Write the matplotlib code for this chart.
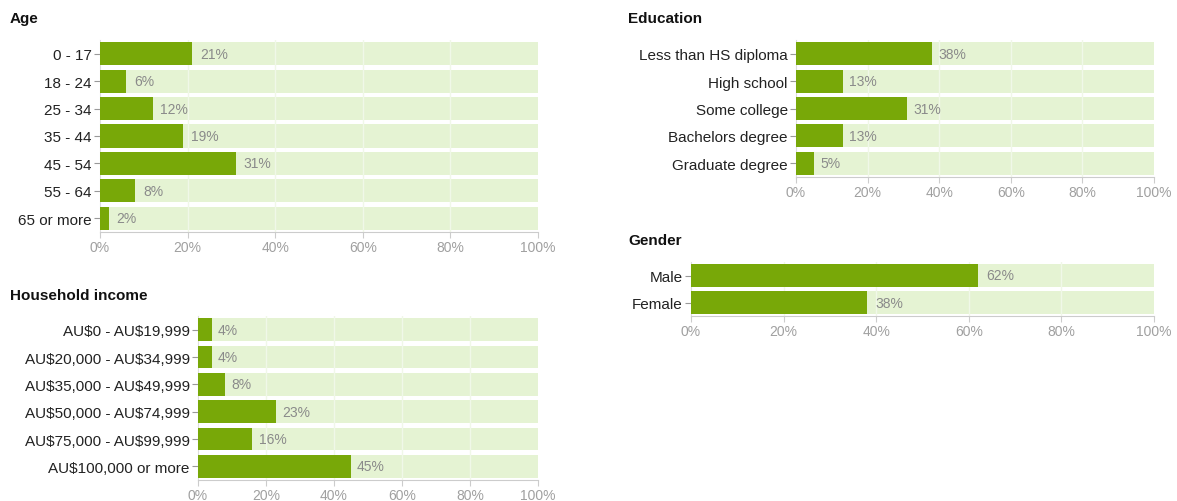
import matplotlib
matplotlib.use("Agg")
import matplotlib.pyplot as plt

plt.rcParams['font.family'] = ['Liberation Sans', 'DejaVu Sans']
plt.rcParams['text.parse_math'] = False

# data
age_labels = ["0 - 17", "18 - 24", "25 - 34", "35 - 44", "45 - 54", "55 - 64", "65 or more"]
age_values = [21, 6, 12, 19, 31, 8, 2]

income_labels = ["AU$0 - AU$19,999", "AU$20,000 - AU$34,999", "AU$35,000 - AU$49,999",
                 "AU$50,000 - AU$74,999", "AU$75,000 - AU$99,999", "AU$100,000 or more"]
income_values = [4, 4, 8, 23, 16, 45]

edu_labels = ["Less than HS diploma", "High school", "Some college",
              "Bachelors degree", "Graduate degree"]
edu_values = [38, 13, 31, 13, 5]

gender_labels = ["Male", "Female"]
gender_values = [62, 38]

ticks = [0, 20, 40, 60, 80, 100]
tick_labels = ["0%", "20%", "40%", "60%", "80%", "100%"]

W, H = 1177, 502
BAR = "#78a808"
BACK = "#e5f3d3"

fig = plt.figure(figsize=(W / 100, H / 100), dpi=100)


def panel(x0, x1, top, bottom, labels, values, title, title_x, title_y):
    ax = fig.add_axes([x0 / W, 1 - bottom / H, (x1 - x0) / W, (bottom - top) / H])
    n = len(labels)
    pos = list(range(n))
    ax.barh(pos, [100] * n, height=0.84, color=BACK, zorder=1)
    for t in ticks[1:-1]:
        ax.axvline(t, color="#f0f8e8", lw=1, zorder=2)
    ax.barh(pos, values, height=0.84, color=BAR, zorder=3)
    for p, v in zip(pos, values):
        ax.text(v + 1.8, p, f"{v}%", va="center", ha="left", fontsize=10,
                color="#8a8a8a", zorder=4)
    ax.set_xlim(0, 100)
    ax.set_ylim(n - 0.5, -0.5)
    ax.set_yticks(pos)
    ax.set_yticklabels(labels, fontsize=11, color="#222222")
    ax.set_xticks(ticks)
    ax.set_xticklabels(tick_labels, fontsize=10, color="#a0a0a0")
    for s in ["top", "right"]:
        ax.spines[s].set_visible(False)
    ax.spines["bottom"].set_color("#cccccc")
    ax.spines["left"].set_color("#dddddd")
    ax.tick_params(axis="x", length=4, color="#cccccc", pad=2)
    ax.tick_params(axis="y", length=4, color="#999999", pad=2)
    fig.text(title_x / W, 1 - title_y / H, title, fontsize=11, fontweight="bold",
             color="#111111", va="center", ha="left")
    return ax


panel(100, 538, 41, 233, age_labels, age_values, "Age", 10, 19)
panel(198, 538, 317, 481, income_labels, income_values, "Household income", 10, 296)
panel(796, 1154, 41, 178, edu_labels, edu_values, "Education", 628, 19)
panel(691, 1154, 263, 317, gender_labels, gender_values, "Gender", 628, 241)

fig.savefig("out.png", dpi=100, facecolor="white")
